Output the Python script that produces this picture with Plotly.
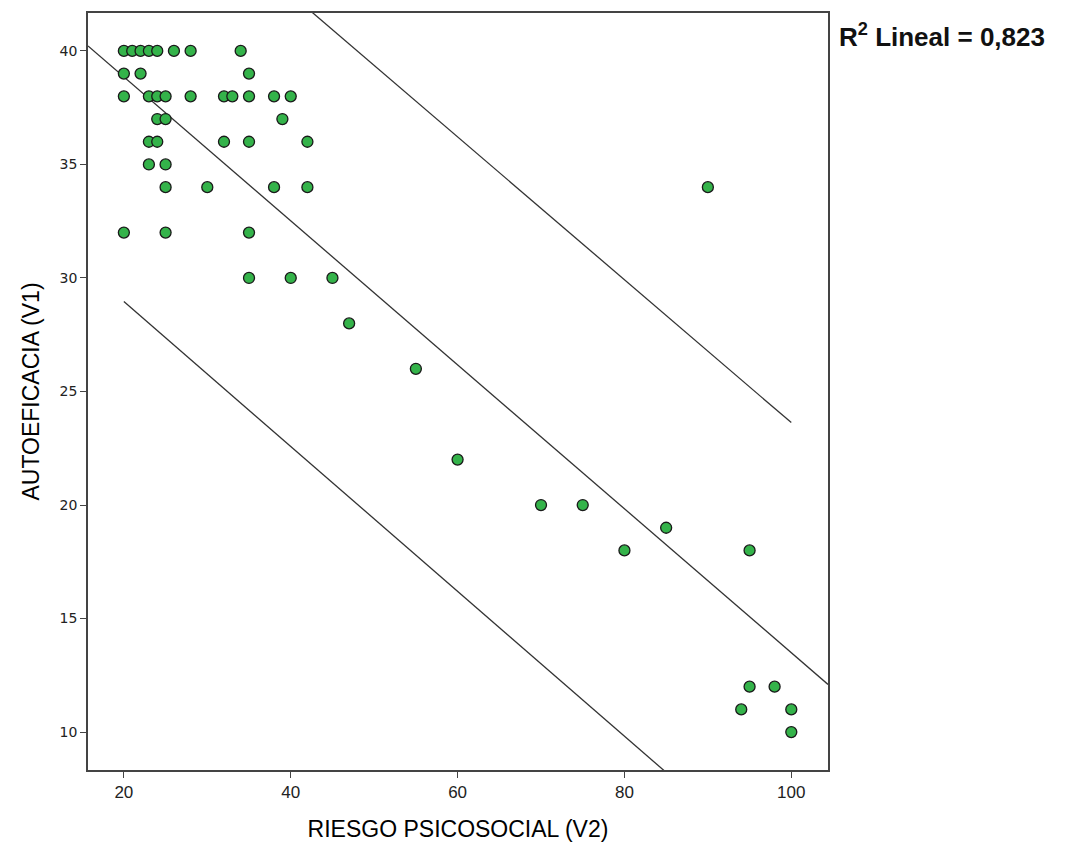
import plotly.graph_objects as go

riesgo = [20, 21, 22, 23, 24, 26, 28, 34,
          20, 22, 35,
          20, 23, 24, 25, 28, 32, 33, 35, 38, 40,
          24, 25, 39,
          23, 24, 32, 35, 42,
          23, 25,
          25, 30, 38, 42,
          20, 25, 35,
          35, 40, 45,
          47, 55, 60, 70, 75, 80, 85, 90, 95, 95, 98, 94, 100, 100]
autoeficacia = [40, 40, 40, 40, 40, 40, 40, 40,
                39, 39, 39,
                38, 38, 38, 38, 38, 38, 38, 38, 38, 38,
                37, 37, 37,
                36, 36, 36, 36, 36,
                35, 35,
                34, 34, 34, 34,
                32, 32, 32,
                30, 30, 30,
                28, 26, 22, 20, 20, 18, 19, 34, 18, 12, 12, 11, 11, 10]

# Fit line and 95% individual prediction band
fit_x = [15.7, 104.4]
fit_y = [40.22, 12.1]
band_x = [20, 100]
band_upper = [48.8, 23.63]
band_lower = [28.96, 3.44]

x_range = [15.7, 104.4]
y_range = [8.33, 41.67]
x_ticks = [20, 40, 60, 80, 100]
y_ticks = [10, 15, 20, 25, 30, 35, 40]

line = dict(color="#333333", width=1.3)
fig = go.Figure()
fig.add_trace(go.Scatter(x=fit_x, y=fit_y, mode="lines", line=line, hoverinfo="skip"))
fig.add_trace(go.Scatter(x=band_x, y=band_upper, mode="lines", line=line, hoverinfo="skip"))
fig.add_trace(go.Scatter(x=band_x, y=band_lower, mode="lines", line=line, hoverinfo="skip"))
fig.add_trace(go.Scatter(x=riesgo, y=autoeficacia, mode="markers",
                         marker=dict(size=11, color="#34b34a",
                                     line=dict(color="#1a1a1a", width=1.3))))

axis_common = dict(showline=True, linecolor="#444444", linewidth=1.5, mirror=True,
                   showgrid=False, zeroline=False, ticks="outside", ticklen=6,
                   tickcolor="#444444")
title_font = dict(family="Liberation Sans, Arial", size=23, color="#000", weight=500)
fig.update_xaxes(range=x_range, tickvals=x_ticks,
                 tickfont=dict(family="Liberation Sans", size=17, color="#222"),
                 title=dict(text="RIESGO PSICOSOCIAL (V2)", font=title_font, standoff=20),
                 **axis_common)
fig.update_yaxes(range=y_range, tickvals=y_ticks,
                 tickfont=dict(family="DejaVu Sans", size=14, color="#222"),
                 title=dict(text="AUTOEFICACIA (V1)", font=title_font, standoff=14),
                 **axis_common)
fig.add_annotation(xref="paper", yref="paper", x=1.012, y=0.97, xanchor="left", yanchor="middle",
                   text="R<sup>2</sup> Lineal = 0,823", showarrow=False,
                   font=dict(family="Liberation Sans", size=26, color="#111", weight="bold"))
fig.update_layout(width=1065, height=849, showlegend=False, plot_bgcolor="white", paper_bgcolor="white",
                  margin=dict(l=88, r=237, t=11, b=77))
fig.write_html("out.html")
